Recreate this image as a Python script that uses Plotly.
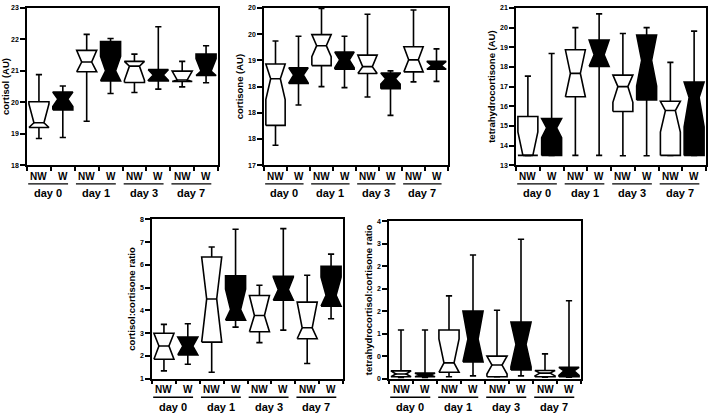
import plotly.graph_objects as go

# ---------------- data ----------------
categories = ["NW", "W", "NW", "W", "NW", "W", "NW", "W"]
day_labels = ["day 0", "day 1", "day 3", "day 7"]

# cortisol (AU)
cortisol_low = [18.85, 18.88, 19.40, 20.28, 20.31, 20.42, 20.49, 20.62]
cortisol_q1 = [19.20, 19.76, 20.97, 20.68, 20.63, 20.68, 20.66, 20.85]
cortisol_med = [19.35, 20.10, 21.28, 21.00, 21.15, 20.87, 20.71, 20.99]
cortisol_q3 = [20.02, 20.33, 21.65, 21.93, 21.30, 21.04, 20.99, 21.53]
cortisol_high = [20.88, 20.52, 22.16, 22.03, 21.53, 22.40, 21.30, 21.80]
cortisol_notch = [0.60, 0.23, 0.40, 0.46, 0.45, 0.17, 0.30, 0.40]
cortisol_ticks = [18, 19, 20, 21, 22, 23]
cortisol_ticklabels = ["18", "19", "20", "21", "22", "23"]

# cortisone (AU)
cortisone_low = [17.38, 18.15, 18.50, 18.48, 18.30, 17.95, 18.59, 18.60]
cortisone_q1 = [17.76, 18.56, 18.90, 18.83, 18.75, 18.46, 18.78, 18.83]
cortisone_med = [18.65, 18.72, 19.28, 19.01, 18.88, 18.65, 19.01, 18.90]
cortisone_q3 = [18.93, 18.86, 19.49, 19.16, 19.10, 18.76, 19.26, 18.98]
cortisone_high = [19.37, 19.46, 19.99, 19.46, 19.88, 18.80, 19.96, 19.22]
cortisone_notch = [0.40, 0.15, 0.21, 0.15, 0.22, 0.10, 0.25, 0.08]
cortisone_ticks = [17, 17.5, 18, 18.5, 19, 19.5, 20]
cortisone_ticklabels = ["17", "18", "18", "18", "19", "20", "20"]

# tetrahydrocortisone (AU)
thcortisone_low = [13.50, 13.50, 13.50, 13.50, 13.48, 13.48, 13.50, 13.50]
thcortisone_q1 = [13.50, 13.50, 16.48, 18.03, 15.73, 16.32, 13.50, 13.50]
thcortisone_med = [13.50, 14.90, 17.67, 18.62, 17.00, 18.33, 15.78, 16.45]
thcortisone_q3 = [15.48, 15.37, 18.87, 19.37, 17.58, 19.62, 16.25, 17.23]
thcortisone_high = [17.53, 18.68, 20.00, 20.70, 19.70, 20.00, 18.23, 19.82]
thcortisone_notch = [1.20, 0.50, 1.30, 0.80, 0.80, 1.30, 1.10, 1.50]
thcortisone_ticks = [13, 14, 15, 16, 17, 18, 19, 20, 21]
thcortisone_ticklabels = ["13", "14", "15", "16", "17", "18", "19", "20", "21"]

# cortisol:cortisone ratio
ratio1_low = [1.34, 1.63, 1.28, 3.26, 2.58, 3.13, 1.66, 3.63]
ratio1_q1 = [1.85, 2.04, 2.60, 3.57, 3.06, 4.44, 2.75, 4.18]
ratio1_med = [2.43, 2.43, 4.50, 4.03, 3.77, 4.91, 3.23, 4.66]
ratio1_q3 = [2.99, 2.83, 6.34, 5.52, 4.65, 5.49, 4.36, 5.93]
ratio1_high = [3.38, 3.41, 6.78, 7.56, 5.10, 7.59, 5.54, 6.47]
ratio1_notch = [0.60, 0.40, 1.90, 0.90, 0.90, 0.55, 1.15, 0.80]
ratio1_ticks = [1, 2, 3, 4, 5, 6, 7, 8]
ratio1_ticklabels = ["1", "2", "3", "4", "5", "6", "7", "8"]

# tetrahydrocortisol:cortisone ratio
ratio2_low = [0.02, 0.02, 0.04, 0.06, 0.04, 0.06, 0.03, 0.03]
ratio2_q1 = [0.04, 0.04, 0.14, 0.37, 0.04, 0.19, 0.04, 0.04]
ratio2_med = [0.10, 0.08, 0.35, 0.88, 0.30, 0.76, 0.12, 0.17]
ratio2_q3 = [0.17, 0.12, 1.08, 1.50, 0.50, 1.26, 0.18, 0.25]
ratio2_high = [1.08, 1.08, 1.84, 2.75, 1.52, 3.10, 0.55, 1.73]
ratio2_notch = [0.07, 0.04, 0.53, 0.62, 0.20, 0.50, 0.06, 0.10]
ratio2_ticks = [0, 0.5, 1, 1.5, 2, 2.5, 3, 3.5]
ratio2_ticklabels = ["0", "0", "1", "2", "2", "2", "3", "4"]

# ---------------- styling / layout ----------------
FIG_W, FIG_H = 709, 414
LW = 1.6
HW = 0.42      # box half width (category units)
NHW = 0.21     # half width at the notch
CAP = 0.13     # whisker cap half width
FONT = "Liberation Sans, Arial, sans-serif"

# panel pixel frames: (left, right, top, bottom)
panels = [
    dict(title="cortisol (AU)", low=cortisol_low, q1=cortisol_q1, med=cortisol_med,
         q3=cortisol_q3, high=cortisol_high, notch=cortisol_notch,
         ticks=cortisol_ticks, labels=cortisol_ticklabels, frame=(27, 218, 4, 164)),
    dict(title="cortisone (AU)", low=cortisone_low, q1=cortisone_q1, med=cortisone_med,
         q3=cortisone_q3, high=cortisone_high, notch=cortisone_notch,
         ticks=cortisone_ticks, labels=cortisone_ticklabels, frame=(264, 448, 4, 164)),
    dict(title="tetrahydrocortisone (AU)", low=thcortisone_low, q1=thcortisone_q1,
         med=thcortisone_med, q3=thcortisone_q3, high=thcortisone_high,
         notch=thcortisone_notch, ticks=thcortisone_ticks, labels=thcortisone_ticklabels,
         frame=(516, 706, 4, 164)),
    dict(title="cortisol:cortisone ratio", low=ratio1_low, q1=ratio1_q1, med=ratio1_med,
         q3=ratio1_q3, high=ratio1_high, notch=ratio1_notch,
         ticks=ratio1_ticks, labels=ratio1_ticklabels, frame=(152, 343, 219, 381)),
    dict(title="tetrahydrocortisol:cortisone ratio", low=ratio2_low, q1=ratio2_q1,
         med=ratio2_med, q3=ratio2_q3, high=ratio2_high, notch=ratio2_notch,
         ticks=ratio2_ticks, labels=ratio2_ticklabels, frame=(389, 581, 221, 381)),
]

fig = go.Figure()
annotations = []
shapes = []
n = len(categories)
pos = list(range(n))

for k, P in enumerate(panels, start=1):
    xa = "x" if k == 1 else f"x{k}"
    ya = "y" if k == 1 else f"y{k}"
    left, right, top, bottom = P["frame"]
    plot_h = bottom - top

    # whiskers with caps
    wx, wy = [], []
    for i, p in enumerate(pos):
        wx += [p, p, None, p - CAP, p + CAP, None, p, p, None, p - CAP, p + CAP, None]
        wy += [P["q3"][i], P["high"][i], None, P["high"][i], P["high"][i], None,
               P["q1"][i], P["low"][i], None, P["low"][i], P["low"][i], None]
    fig.add_trace(go.Scatter(x=wx, y=wy, mode="lines", xaxis=xa, yaxis=ya,
                             line=dict(color="black", width=LW), hoverinfo="skip",
                             showlegend=False))

    # notched boxes (notch clipped to the quartiles)
    for i, p in enumerate(pos):
        q1, med, q3 = P["q1"][i], P["med"][i], P["q3"][i]
        nhi = min(q3, med + P["notch"][i])
        nlo = max(q1, med - P["notch"][i])
        xs = [p - HW, p - HW, p - NHW, p - HW, p - HW, p + HW, p + HW, p + NHW, p + HW, p + HW, p - HW]
        ys = [q1, nlo, med, nhi, q3, q3, nhi, med, nlo, q1, q1]
        fillc = "white" if categories[i] == "NW" else "black"
        fig.add_trace(go.Scatter(x=xs, y=ys, mode="lines", fill="toself", fillcolor=fillc,
                                 xaxis=xa, yaxis=ya, line=dict(color="black", width=LW),
                                 hoverinfo="skip", showlegend=False))
        fig.add_trace(go.Scatter(x=[p - NHW, p + NHW], y=[med, med], mode="lines",
                                 xaxis=xa, yaxis=ya, line=dict(color="black", width=LW),
                                 hoverinfo="skip", showlegend=False))

    fig.layout[f"xaxis{'' if k == 1 else k}"] = dict(
        domain=[left / FIG_W, right / FIG_W], anchor=ya, range=[-0.5, n - 0.5],
        tickvals=[j - 0.5 for j in range(n + 1)], ticktext=[""] * (n + 1),
        ticks="outside", ticklen=4, tickwidth=LW, tickcolor="black",
        showline=True, linewidth=LW, linecolor="black", mirror=True,
        showgrid=False, zeroline=False, fixedrange=True)
    fig.layout[f"yaxis{'' if k == 1 else k}"] = dict(
        domain=[1 - bottom / FIG_H, 1 - top / FIG_H], anchor=xa,
        range=[P["ticks"][0], P["ticks"][-1]], tickvals=P["ticks"], ticktext=P["labels"],
        ticks="outside", ticklen=5, tickwidth=LW, tickcolor="black",
        tickfont=dict(family=FONT, size=7, color="black", weight="bold"),
        showline=True, linewidth=LW, linecolor="black", mirror=True,
        showgrid=False, zeroline=False, fixedrange=True,
        title=dict(text=P["title"], standoff=3,
                   font=dict(family=FONT, size=9.5, color="black", weight="bold")))

    # group labels under the x axis
    for i, p in enumerate(pos):
        annotations.append(dict(x=p, y=0, xref=xa, yref=f"{ya} domain", text=categories[i],
                                showarrow=False, yanchor="middle", yshift=-11,
                                font=dict(family=FONT, size=10, color="black", weight="bold")))
    for j, d in enumerate(day_labels):
        x0 = 2 * j - 0.45
        x1 = 2 * j + 1 + 0.22
        shapes.append(dict(type="line", xref=xa, yref=f"{ya} domain", x0=x0, x1=x1,
                           y0=-19 / plot_h, y1=-19 / plot_h,
                           line=dict(color="black", width=1.4)))
        annotations.append(dict(x=(x0 + x1) / 2, y=0, xref=xa, yref=f"{ya} domain", text=d,
                                showarrow=False, yanchor="middle", yshift=-28,
                                font=dict(family=FONT, size=11, color="black", weight="bold")))

fig.update_layout(width=FIG_W, height=FIG_H, margin=dict(l=0, r=0, t=0, b=0),
                  paper_bgcolor="white", plot_bgcolor="white", showlegend=False,
                  annotations=annotations, shapes=shapes)

fig.write_html("out.html", config={"displayModeBar": False},
               post_script="document.body.style.margin='0';document.body.style.overflow='hidden';")
